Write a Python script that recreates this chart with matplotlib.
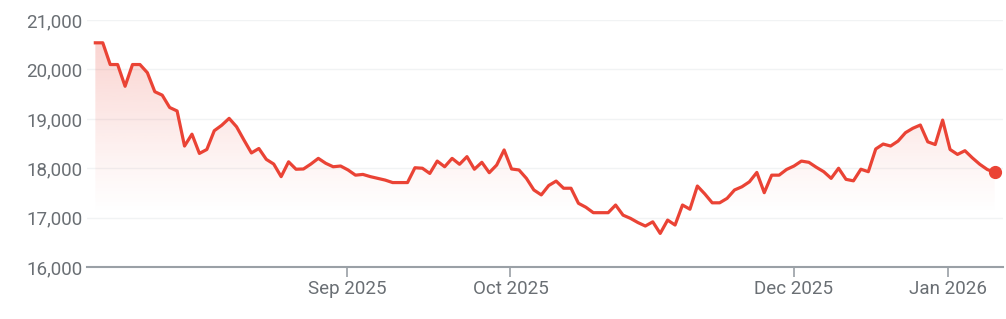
import numpy as np
import matplotlib.pyplot as plt
from matplotlib.colors import to_rgb

# valores (un punto por sesión)
valores = [20540, 20540, 20100, 20100, 19660, 20100, 20100, 19935, 19550, 19480,
           19230, 19160, 18450, 18690, 18300, 18380, 18760, 18870, 19010, 18840,
           18570, 18310, 18400, 18180, 18085, 17830, 18130, 17980, 17985, 18085,
           18200, 18100, 18030, 18045, 17965, 17860, 17875, 17830, 17795, 17760,
           17710, 17710, 17710, 18010, 18000, 17895, 18145, 18030, 18200, 18080,
           18235, 17980, 18120, 17910, 18065, 18370, 17985, 17965, 17795, 17560,
           17460, 17650, 17740, 17595, 17595, 17290, 17210, 17100, 17100, 17100,
           17255, 17050, 16985, 16900, 16830, 16915, 16680, 16950, 16850, 17255,
           17170, 17640, 17480, 17300, 17300, 17390, 17560, 17625, 17725, 17915,
           17505, 17860, 17860, 17975, 18045, 18145, 18120, 18020, 17930, 17795,
           18000, 17775, 17745, 17980, 17930, 18390, 18490, 18450, 18550, 18720,
           18810, 18875, 18535, 18480, 18975, 18380, 18280, 18355, 18210, 18080,
           17975, 17915]

meses = ['Sep 2025', 'Oct 2025', 'Dec 2025', 'Jan 2026']
pos_meses = [33.9, 55.85, 94.0, 114.7]
y_ticks = [16000, 17000, 18000, 19000, 20000, 21000]

rojo = '#ea4335'
gris = '#6a6f74'

x = np.arange(len(valores))
y = np.array(valores)

fig = plt.figure(figsize=(10.06, 3.19), dpi=100)
ax = fig.add_axes([0.0865, 0.163, 0.9105, 0.774])

# relleno degradado bajo la línea
x0, x1 = -1.12, len(valores) - 1 + 1.12
r, g, b = to_rgb(rojo)
n = 256
grad = np.zeros((n, 1, 4))
grad[:, 0, 0] = r
grad[:, 0, 1] = g
grad[:, 0, 2] = b
grad[:, 0, 3] = np.linspace(0.28, 0.0, n) ** 1.15
poly = ax.fill_between(x, y, 16000, color='none')
img = ax.imshow(grad, aspect='auto', extent=[x[0], x[-1], 17050, 20550],
                origin='upper', zorder=1)
img.set_clip_path(poly.get_paths()[0], transform=ax.transData)

ax.plot(x, y, color=rojo, lw=2.3, zorder=3)
ax.plot(x[-1], y[-1], 'o', color=rojo, ms=8.5, zorder=4)

ax.set_xlim(x0, x1)
ax.set_ylim(16000, 21000)

ax.set_yticks(y_ticks)
ax.set_yticklabels([f'{v:,}' for v in y_ticks])
ax.set_xticks(pos_meses)
ax.set_xticklabels(meses)

for v in y_ticks[1:]:
    ax.axhline(v, color='#f1f3f4', lw=1, zorder=0)

for s in ['top', 'right', 'left']:
    ax.spines[s].set_visible(False)
ax.spines['bottom'].set_color('#9aa0a6')
ax.spines['bottom'].set_linewidth(1.5)

ax.tick_params(axis='y', length=0, pad=3, labelsize=13.5, labelcolor=gris)
ax.tick_params(axis='x', length=7, width=1.2, color='#9aa0a6', pad=2,
               labelsize=13.5, labelcolor=gris)
for t in ax.get_xticklabels() + ax.get_yticklabels():
    t.set_fontfamily(['Roboto', 'DejaVu Sans'])

fig.savefig('out.png', dpi=100)
